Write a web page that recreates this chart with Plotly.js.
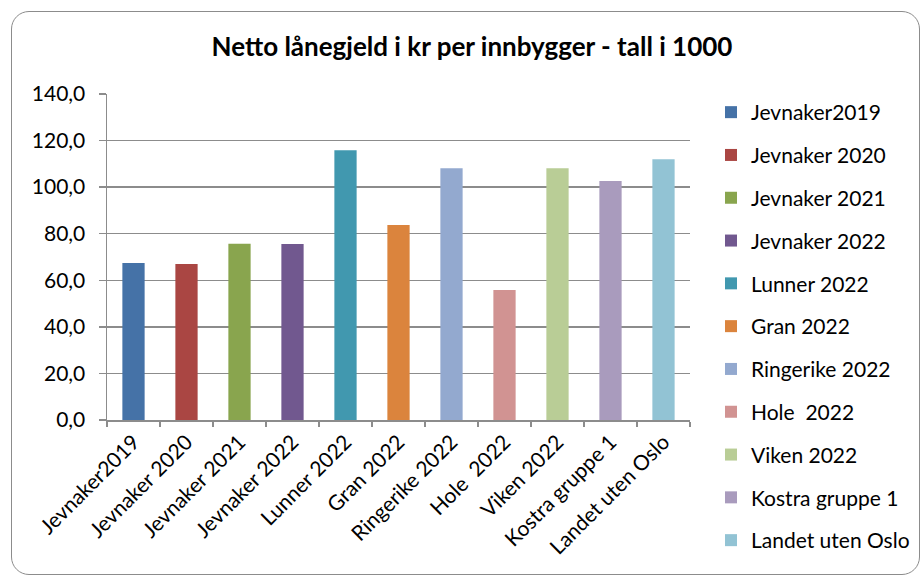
<!DOCTYPE html>
<html>
<head>
<meta charset="utf-8">
<script src="https://cdn.plot.ly/plotly-3.0.1.min.js"></script>
<style>
html,body{margin:0;padding:0;background:#fff;}
#wrap{position:relative;width:923px;height:578px;}
#chart{position:absolute;left:0;top:0;width:923px;height:578px;}
#frame{position:absolute;left:11px;top:11px;width:909px;height:564px;border:1.5px solid #8c8c8c;border-radius:18px;pointer-events:none;box-sizing:border-box;}
</style>
</head>
<body>
<div id="wrap"><div id="chart"></div><div id="frame"></div></div>
<script>
const categories = ["Jevnaker2019","Jevnaker 2020","Jevnaker 2021","Jevnaker 2022","Lunner 2022","Gran 2022","Ringerike 2022","Hole  2022","Viken 2022","Kostra gruppe 1","Landet uten Oslo"];
const values = [67.4, 67.0, 75.7, 75.6, 115.8, 83.7, 108.1, 55.8, 108.1, 102.6, 112.0];
const colors = ["#4572A7","#AA4643","#89A54E","#71588F","#4198AF","#DB843D","#93A9CF","#D19392","#B9CD96","#A99BBD","#92C3D4"];
const yTicks = [0,20,40,60,80,100,120,140];

const FONT = "Lato, 'Open Sans', sans-serif";
const traces = categories.map((c,i)=>({
  type:'bar', x:[c], y:[values[i]], name:c, legendgroup:'g'+i,
  marker:{color:colors[i], line:{width:0}}, width:0.42, hoverinfo:'x+y'
}));

const layout = {
  width:923, height:578,
  margin:{l:107, r:233, t:94, b:158, pad:0},
  paper_bgcolor:'#fff', plot_bgcolor:'#fff',
  separators:',.',
  barmode:'overlay',
  font:{family:FONT, size:21, color:'#000'},
  title:{text:'<b>Netto lånegjeld i kr per innbygger - tall i 1000</b>', font:{family:FONT, size:26, color:'#000'},
    x:472/923, xanchor:'center', xref:'container', y:1-47/578, yanchor:'middle', yref:'container'},
  xaxis:{type:'category', categoryorder:'array', categoryarray:categories,
    tickangle:-45, ticks:'outside', tickson:'boundaries', ticklen:5, tickcolor:'#8c8c8c', tickwidth:1.5,
    showline:true, linecolor:'#8c8c8c', linewidth:1.5, showgrid:false, zeroline:false,
    tickfont:{family:FONT, size:21, color:'#000'}, automargin:false},
  yaxis:{range:[0,140], tickvals:yTicks, tickformat:'.1f', ticks:'outside', ticklen:7, tickcolor:'#8c8c8c', tickwidth:1.5,
    ticklabelstandoff:9,
    showline:true, linecolor:'#8c8c8c', linewidth:1.5, showgrid:true, gridcolor:'#8c8c8c', gridwidth:1.5,
    zeroline:false, tickfont:{family:FONT, size:21, color:'#000'}, automargin:false},
  showlegend:true,
  legend:{xref:'container', yref:'container', x:711/923, xanchor:'left', y:1-92/578, yanchor:'top',
    traceorder:'grouped', tracegroupgap:12.5, maxheight:600, borderwidth:0,
    font:{family:FONT, size:21, color:'#000'}, bgcolor:'rgba(0,0,0,0)', itemclick:false, itemdoubleclick:false}
};
Plotly.newPlot('chart', traces, layout, {displayModeBar:false, staticPlot:true});
</script>
</body>
</html>
